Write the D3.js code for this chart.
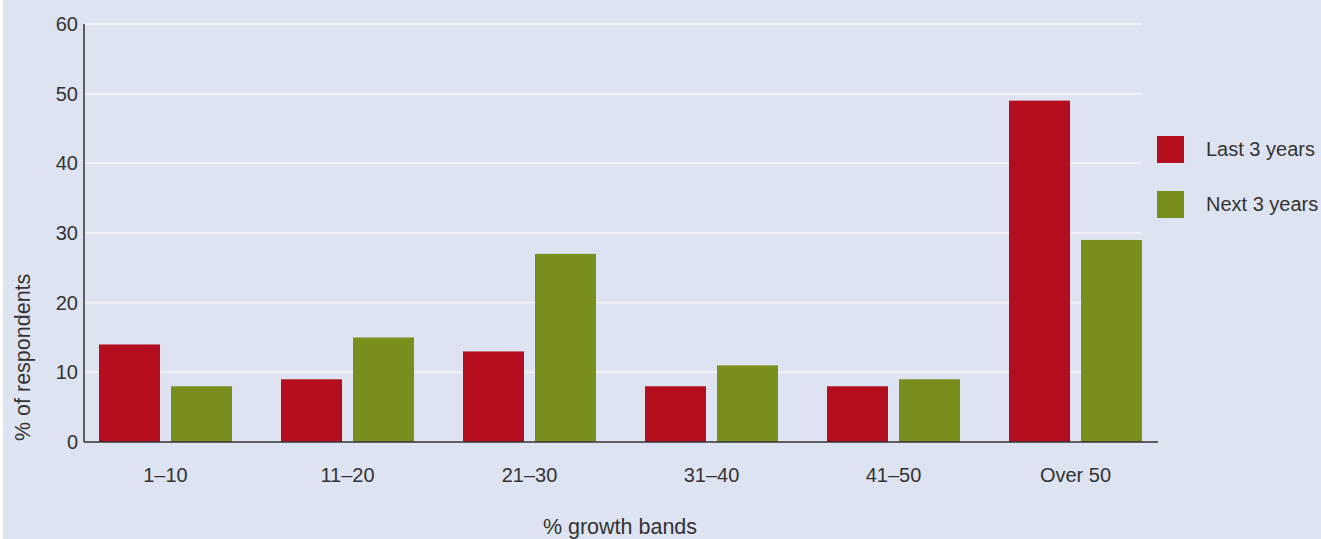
<!DOCTYPE html>
<html>
<head>
<meta charset="utf-8">
<script src="https://cdn.jsdelivr.net/npm/d3@7"></script>
<style>
  html, body { margin: 0; padding: 0; background: #ffffff; }
  svg { display: block; }
  text { font-family: "Liberation Sans", Arial, sans-serif; fill: #333333; }
</style>
</head>
<body>
<svg id="chart" width="1321" height="539"></svg>
<script>
// Growth bands and share of respondents (%)
const categories = ["1–10", "11–20", "21–30", "31–40", "41–50", "Over 50"];
const seriesNames = ["Last 3 years", "Next 3 years"];
const lastThreeYears = [14, 9, 13, 8, 8, 49];
const nextThreeYears = [8, 15, 27, 11, 9, 29];
const yTicks = [0, 10, 20, 30, 40, 50, 60];
const colors = ["#b40e1e", "#788f1e"];

const FONT = "'Liberation Sans', Arial, sans-serif";
const FS = 20;        // tick labels and legend
const TITLE_FS = 21.5; // axis titles

const svg = d3.select("#chart");
const W = 1321, H = 539;

// panel background with a thin white margin on the left
svg.append("rect").attr("x", 3).attr("y", 0).attr("width", W - 3).attr("height", H).attr("fill", "#dee3f1");

const axisLeft = 84, axisRight = 1158, gridRight = 1142;
const y = d3.scaleLinear().domain([0, 60]).range([442, 24]);
const x = d3.scaleBand().domain(categories).range([74.5, 1166.5])
  .paddingInner(49 / 182).paddingOuter(24.5 / 182);
const xs = d3.scaleBand().domain(seriesNames).range([0, x.bandwidth()]).paddingInner(11 / 72);

// horizontal gridlines
svg.append("g").selectAll("line").data(yTicks.filter(d => d > 0)).join("line")
  .attr("x1", axisLeft).attr("x2", gridRight)
  .attr("y1", d => y(d)).attr("y2", d => y(d))
  .attr("stroke", "#f4f5fa").attr("stroke-width", 1.5);

// bars
const rows = categories.map((c, i) => ({ c, vals: [lastThreeYears[i], nextThreeYears[i]] }));
const groups = svg.append("g").selectAll("g").data(rows).join("g")
  .attr("transform", d => `translate(${x(d.c)},0)`);
groups.selectAll("rect").data(d => d.vals.map((v, k) => ({ v, k }))).join("rect")
  .attr("x", d => xs(seriesNames[d.k]))
  .attr("width", xs.bandwidth())
  .attr("y", d => y(d.v))
  .attr("height", d => y(0) - y(d.v))
  .attr("fill", d => colors[d.k]);

// y axis
const yAxis = svg.append("g").attr("transform", `translate(${axisLeft},0)`)
  .call(d3.axisLeft(y).tickValues(yTicks).tickSize(0).tickPadding(6));
yAxis.select(".domain").remove();
yAxis.selectAll("text").attr("font-size", FS).attr("font-family", FONT).attr("fill", "#333");
svg.append("line").attr("x1", axisLeft).attr("x2", axisLeft).attr("y1", y(60)).attr("y2", y(0))
  .attr("stroke", "#333").attr("stroke-width", 1.5);

// x axis
const xAxis = svg.append("g").attr("transform", `translate(0,${y(0)})`)
  .call(d3.axisBottom(x).tickSize(0).tickPadding(26));
xAxis.select(".domain").remove();
xAxis.selectAll("text").attr("font-size", FS).attr("font-family", FONT).attr("fill", "#333");
svg.append("line").attr("x1", axisLeft).attr("x2", axisRight).attr("y1", y(0)).attr("y2", y(0))
  .attr("stroke", "#333").attr("stroke-width", 1.5);

// axis titles
svg.append("text").attr("x", 620).attr("y", 534).attr("text-anchor", "middle")
  .attr("font-size", TITLE_FS).text("% growth bands");
svg.append("text").attr("transform", "translate(30,441) rotate(-90)").attr("text-anchor", "start")
  .attr("font-size", TITLE_FS).text("% of respondents");

// legend
const legend = svg.append("g").selectAll("g").data(seriesNames).join("g")
  .attr("transform", (d, i) => `translate(1157,${136 + i * 55})`);
legend.append("rect").attr("width", 27).attr("height", 27).attr("fill", (d, i) => colors[i]);
legend.append("text").attr("x", 49).attr("y", 20).attr("font-size", FS).text(d => d);
</script>
</body>
</html>
